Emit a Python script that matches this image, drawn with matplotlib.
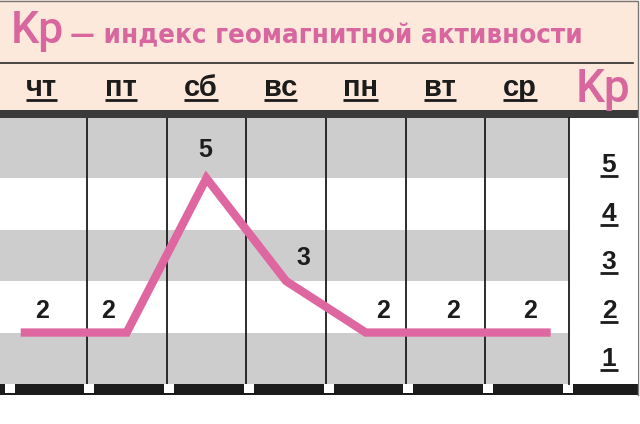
import matplotlib
matplotlib.use('Agg')
import matplotlib.pyplot as plt
import numpy as np
from matplotlib.patches import Rectangle
from matplotlib.lines import Line2D
from matplotlib.transforms import blended_transform_factory

# данные
days = ['чт', 'пт', 'сб', 'вс', 'пн', 'вт', 'ср']
kp = [2, 2, 5, 3, 2, 2, 2]
kp_levels = [1, 2, 3, 4, 5]
title_main = 'Kp'
title_rest = '— индекс геомагнитной активности'

# сдвиги подписей значений (пиксели)
label_dx = [-5, -19, -1, 17, 17, 8, 5]
label_dy = [22, 22, 28, 23, 22, 22, 22]

W, H = 640, 424
PINK = '#de67a1'
TITLE_PINK = '#d8679f'
BEIGE = '#fde9dc'
STRIPE = '#cdcdcd'
INK = '#1c1c1c'

plt.rcParams['font.family'] = ['Liberation Sans', 'DejaVu Sans']


def frac(x0, y0, x1, y1):
    return [x0 / W, 1 - y1 / H, (x1 - x0) / W, (y1 - y0) / H]


fig = plt.figure(figsize=(W / 100, H / 100), dpi=100)
bg = fig.add_axes([0, 0, 1, 1], zorder=0)
bg.set_xlim(0, W)
bg.set_ylim(H, 0)
bg.axis('off')

# шапка и рамка
bg.add_patch(Rectangle((0, 0), 638, 111, fc=BEIGE, ec='none'))
bg.add_patch(Rectangle((0, 110), 638, 8, fc='#3a3a3a', ec='none'))
bg.plot([0, 633], [63, 63], color='#2a2a2a', lw=1.2)
bg.add_patch(Rectangle((0, 384), 638, 11, fc=INK, ec='none'))
bg.plot([0, 638, 638], [0.5, 0.5, 395], color='#777777', lw=1)

# основная область
ax = fig.add_axes(frac(0, 118, 569, 384), zorder=1)
x = np.arange(len(days))
ax.set_xlim(-0.59, 6.55)
ax.set_ylim(1, 6.17)
ax.set_facecolor('white')
for s in ax.spines.values():
    s.set_visible(False)
ax.set_xticks([])
ax.set_yticks([])
for lv in kp_levels:
    if lv % 2 == 1:
        top = lv + 1 if lv < kp_levels[-1] else 7
        ax.axhspan(lv, top, color=STRIPE, lw=0, zorder=0)
for i in range(len(days) - 1):
    ax.axvline(i + 0.5, color=INK, lw=1.3, zorder=1)

xs = np.concatenate([[x[0] - 0.33], x, [x[-1] + 0.32]])
ys = [kp[0]] + kp + [kp[-1]]
ax.plot(xs, ys, color=PINK, lw=6, solid_joinstyle='miter', solid_capstyle='butt', zorder=3)
for i, v in enumerate(kp):
    ax.annotate(str(v), (x[i], v), xytext=(label_dx[i], label_dy[i]), textcoords='offset pixels',
                ha='center', va='center', fontsize=18, fontweight='bold', color=INK, zorder=4)

# белые просветы в нижней полосе
tb = blended_transform_factory(ax.transData, bg.transData)
for i in range(len(days) + 1):
    bg.add_patch(Rectangle((i - 0.53, 384), 0.125, 9, fc='white', ec='none', transform=tb))

# правая колонка со шкалой Kp
kax = fig.add_axes(frac(569, 118, 638, 384), zorder=1)
kax.set_xlim(0, 1)
kax.set_ylim(1, 6.17)
kax.set_facecolor('white')
for s in kax.spines.values():
    s.set_visible(False)
kax.spines['left'].set_visible(True)
kax.spines['left'].set_color(INK)
kax.spines['left'].set_linewidth(1.3)
kax.set_xticks([])
kax.set_yticks([])
level_y = np.linspace(1.52, 5.29, len(kp_levels))
num_texts = []
for lv, yc in zip(kp_levels, level_y):
    t = kax.text(0.58, yc - 0.17, str(lv), ha='center', va='baseline', fontsize=19,
                 fontweight='bold', color=INK)
    num_texts.append((t, yc - 0.17))

# заголовок
bg.text(11, 43, title_main, fontsize=32, fontweight=500, family=['Roboto', 'Liberation Sans'],
        color=TITLE_PINK, va='baseline')
rest = bg.text(70, 43, title_rest, fontsize=22, fontweight='bold', fontstretch='condensed',
               family=['DejaVu Sans'], color=TITLE_PINK, va='baseline')
bg.text(603, 102, 'Kp', fontsize=33, fontweight=500, family=['Roboto', 'Liberation Sans'],
        color=TITLE_PINK, ha='center', va='baseline')

th = blended_transform_factory(ax.transData, bg.transData)
day_texts = []
for i, d in enumerate(days):
    t = bg.text(x[i] - 0.07, 96, d, transform=th, ha='center', va='baseline',
                fontsize=21, fontweight='bold', color=INK)
    day_texts.append(t)

# подгоняем ширину заголовка и рисуем подчёркивания
fig.canvas.draw()
renderer = fig.canvas.get_renderer()
w = rest.get_window_extent(renderer).width
rest.set_fontsize(22 * 508 / w)

for t in day_texts:
    bb = t.get_window_extent(renderer)
    fig.add_artist(Line2D([bb.x0, bb.x1], [99.5, 99.5], transform=bg.transData,
                          color=INK, lw=2.0, solid_capstyle='butt', zorder=5))
for t, yb in num_texts:
    bb = t.get_window_extent(renderer)
    ybase = H - kax.transData.transform((0, yb))[1]
    fig.add_artist(Line2D([bb.x0 - 2, bb.x1 + 2], [ybase + 4, ybase + 4], transform=bg.transData,
                          color=INK, lw=2.0, solid_capstyle='butt', zorder=5))

fig.savefig('out.png', dpi=100)
